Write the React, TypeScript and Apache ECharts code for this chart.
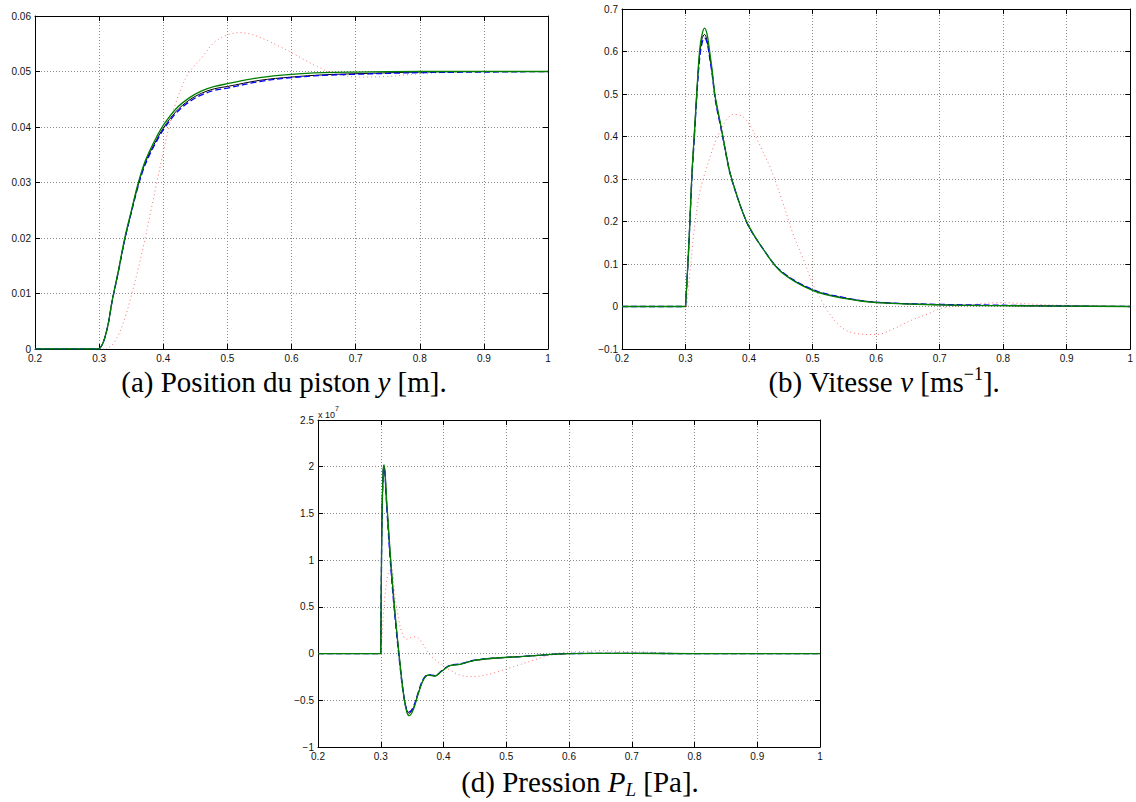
import React, { useEffect, useRef } from "react";
import * as echarts from "echarts";

// ---- (a) piston position y [m] ----
const posTime = [0.2, 0.3, 0.305, 0.31, 0.315, 0.32, 0.33, 0.34, 0.35, 0.36, 0.37, 0.38, 0.39, 0.4, 0.42, 0.44, 0.46, 0.48, 0.5, 0.55, 0.6, 0.65, 0.7, 0.8, 0.9, 1.0];
const posBlack = [0, 0, 0.0008, 0.0025, 0.005, 0.0085, 0.014, 0.0198, 0.0246, 0.0292, 0.033, 0.0356, 0.0378, 0.0398, 0.0428, 0.0448, 0.0461, 0.0469, 0.0473, 0.0484, 0.049, 0.0494, 0.0496, 0.0499, 0.05, 0.05];
const posBlue = [0, 0, 0.0008, 0.0025, 0.005, 0.0084, 0.0139, 0.0197, 0.0245, 0.029, 0.0327, 0.0353, 0.0375, 0.0395, 0.0425, 0.0445, 0.0458, 0.0466, 0.047, 0.0482, 0.0489, 0.0493, 0.0495, 0.0498, 0.0499, 0.05];
const posGreen = [0, 0, 0.0008, 0.0025, 0.005, 0.0085, 0.0141, 0.02, 0.0248, 0.0295, 0.0333, 0.036, 0.0383, 0.0403, 0.0433, 0.0452, 0.0465, 0.0473, 0.0478, 0.0489, 0.0495, 0.0498, 0.0499, 0.05, 0.05, 0.05];
const posRedTime = [0.2, 0.31, 0.32, 0.33, 0.34, 0.35, 0.36, 0.37, 0.38, 0.39, 0.4, 0.41, 0.42, 0.43, 0.44, 0.46, 0.48, 0.5, 0.52, 0.54, 0.56, 0.58, 0.6, 0.62, 0.64, 0.66, 0.68, 0.7, 0.75, 0.8, 0.9, 1.0];
const posRed = [0, 0, 0.0007, 0.0025, 0.0055, 0.0095, 0.014, 0.019, 0.0245, 0.03, 0.0355, 0.0405, 0.0445, 0.0475, 0.0498, 0.0525, 0.0553, 0.0566, 0.057, 0.0566, 0.0557, 0.0546, 0.0534, 0.0521, 0.0509, 0.0499, 0.0493, 0.049, 0.0491, 0.0496, 0.05, 0.05];

// ---- (b) velocity v [m/s] ----
const velTime = [0.2, 0.3, 0.303, 0.306, 0.31, 0.314, 0.318, 0.322, 0.326, 0.33, 0.334, 0.338, 0.342, 0.346, 0.35, 0.355, 0.36, 0.365, 0.37, 0.38, 0.39, 0.4, 0.42, 0.45, 0.5, 0.55, 0.6, 0.7, 0.8, 0.9, 1.0];
const velBlack = [0, 0, 0.08, 0.17, 0.31, 0.41, 0.51, 0.59, 0.63, 0.64, 0.625, 0.59, 0.55, 0.5, 0.465, 0.428, 0.39, 0.35, 0.315, 0.265, 0.222, 0.187, 0.14, 0.083, 0.039, 0.02, 0.01, 0.004, 0.002, 0.001, 0];
const velBlue = [0, 0, 0.08, 0.17, 0.3, 0.4, 0.5, 0.58, 0.62, 0.632, 0.62, 0.585, 0.545, 0.495, 0.46, 0.425, 0.387, 0.348, 0.313, 0.264, 0.222, 0.187, 0.14, 0.084, 0.04, 0.021, 0.01, 0.005, 0.003, 0.001, 0];
const velGreen = [0, 0, 0.08, 0.17, 0.31, 0.41, 0.51, 0.6, 0.64, 0.655, 0.64, 0.6, 0.555, 0.5, 0.468, 0.43, 0.39, 0.35, 0.315, 0.265, 0.222, 0.188, 0.14, 0.082, 0.038, 0.019, 0.009, 0.004, 0.002, 0.001, 0];
const velRedTime = [0.2, 0.302, 0.307, 0.313, 0.318, 0.322, 0.327, 0.335, 0.344, 0.355, 0.365, 0.375, 0.39, 0.404, 0.418, 0.435, 0.452, 0.469, 0.486, 0.5, 0.514, 0.526, 0.548, 0.571, 0.6, 0.628, 0.656, 0.684, 0.7, 0.741, 0.797, 0.854, 0.911, 1.0];
const velRed = [0, 0, 0.08, 0.172, 0.23, 0.266, 0.296, 0.335, 0.376, 0.415, 0.44, 0.452, 0.447, 0.42, 0.376, 0.321, 0.25, 0.172, 0.109, 0.054, 0.015, -0.016, -0.052, -0.064, -0.066, -0.052, -0.032, -0.016, -0.005, 0.003, 0.009, 0.005, 0.002, 0];

// ---- (d) load pressure P_L [x 10^7 Pa] ----
const presTime = [0.2, 0.3, 0.3009, 0.302, 0.304, 0.3053, 0.3094, 0.3147, 0.32, 0.3253, 0.3306, 0.336, 0.3413, 0.3455, 0.352, 0.36, 0.368, 0.376, 0.3865, 0.397, 0.41, 0.4264, 0.447, 0.479, 0.522, 0.56, 0.6, 0.7, 0.8, 0.9, 1.0];
const presBlack = [0, 0, 0.75, 1.47, 1.96, 2.0, 1.62, 1.09, 0.63, 0.24, -0.1, -0.41, -0.6, -0.64, -0.585, -0.42, -0.28, -0.23, -0.24, -0.19, -0.13, -0.115, -0.076, -0.05, -0.033, -0.015, 0, 0.002, 0, 0, 0];
const presBlue = [0, 0, 0.75, 1.47, 1.95, 1.99, 1.58, 1.04, 0.59, 0.21, -0.13, -0.43, -0.6, -0.625, -0.57, -0.41, -0.27, -0.225, -0.235, -0.185, -0.125, -0.11, -0.074, -0.05, -0.032, -0.015, 0, 0.002, 0, 0, 0];
const presGreen = [0, 0, 0.75, 1.47, 1.97, 2.02, 1.64, 1.11, 0.645, 0.25, -0.1, -0.425, -0.62, -0.665, -0.6, -0.425, -0.28, -0.23, -0.24, -0.19, -0.13, -0.115, -0.076, -0.05, -0.033, -0.015, 0, 0.002, 0, 0, 0];
const presRedTime = [0.2, 0.3, 0.302, 0.3066, 0.312, 0.3174, 0.3226, 0.328, 0.3333, 0.3413, 0.352, 0.36, 0.368, 0.3785, 0.3944, 0.41, 0.4264, 0.447, 0.479, 0.5115, 0.544, 0.567, 0.59, 0.618, 0.652, 0.692, 0.726, 0.749, 0.8, 1.0];
const presRed = [0, 0, 0.18, 0.61, 0.86, 0.91, 0.61, 0.395, 0.234, 0.153, 0.18, 0.164, 0.092, -0.015, -0.104, -0.175, -0.23, -0.247, -0.21, -0.14, -0.07, -0.02, 0.01, 0.02, 0.03, 0.02, 0.015, 0.005, 0, 0];

// Axis ranges and tick steps
const xRange = { min: 0.2, max: 1, interval: 0.1 };
const posRange = { min: 0, max: 0.06, interval: 0.01 };
const velRange = { min: -0.1, max: 0.7, interval: 0.1 };
const presRange = { min: -1, max: 2.5, interval: 0.5 };

const TICK_FONT = "'Liberation Sans', Arial, sans-serif";
const CAPTION_FONT = "'Liberation Serif', 'Times New Roman', serif";

const fmt = (v: number) => String(parseFloat(v.toFixed(4))).replace("-", "\u2212");

const panels = [
  { left: 35, top: 16, width: 513, height: 333, y: posRange },
  { left: 622, top: 9, width: 510, height: 340, y: velRange },
  { left: 318, top: 420, width: 502, height: 327, y: presRange },
];

// Split a trace at the end of its resting (zero) stretch: the resting part is
// drawn straight, the transient part smoothed, so the onset corner stays sharp.
function splitAtOnset(t: number[], v: number[]) {
  let k = 0;
  while (k + 1 < v.length && v[k + 1] === 0) k++;
  const pts = t.map((x, i) => [x, v[i]]);
  return { rest: pts.slice(0, k + 1), motion: pts.slice(k) };
}

function buildOption() {
  const grid = panels.map((p) => ({ left: p.left, top: p.top, width: p.width, height: p.height }));

  const frameLine = { show: true, onZero: false, lineStyle: { color: "#000", width: 1 } };
  const inTicks = { show: true, inside: true, length: 5, lineStyle: { color: "#000" } };
  const labelStyle = { show: true, margin: 4, fontFamily: TICK_FONT, fontSize: 10, color: "#111", formatter: fmt };
  const gridLines = { show: true, lineStyle: { color: "#8a8a8a", type: [1, 2], width: 1 } };

  const xAxis: any[] = [];
  const yAxis: any[] = [];
  panels.forEach((p, i) => {
    xAxis.push({ type: "value", gridIndex: i, position: "bottom", ...xRange, axisLine: frameLine, axisTick: inTicks, axisLabel: labelStyle, splitLine: gridLines });
    yAxis.push({ type: "value", gridIndex: i, position: "left", ...p.y, axisLine: frameLine, axisTick: inTicks, axisLabel: labelStyle, splitLine: gridLines });
  });
  // Mirror axes on top/right close the frame and carry inward ticks
  panels.forEach((p, i) => {
    xAxis.push({ type: "value", gridIndex: i, position: "top", ...xRange, axisLine: frameLine, axisTick: inTicks, axisLabel: { show: false }, splitLine: { show: false } });
    yAxis.push({ type: "value", gridIndex: i, position: "right", ...p.y, axisLine: frameLine, axisTick: inTicks, axisLabel: { show: false }, splitLine: { show: false } });
  });

  const series: any[] = [];
  const trace = (name: string, idx: number, t: number[], v: number[], color: string, width: number, type: any) => {
    const { rest, motion } = splitAtOnset(t, v);
    const base = {
      name,
      type: "line",
      xAxisIndex: idx,
      yAxisIndex: idx,
      showSymbol: false,
      symbol: "none",
      lineStyle: { color, width, type },
      emphasis: { disabled: true },
    };
    series.push({ ...base, data: rest, smooth: false });
    series.push({ ...base, data: motion, smooth: 0.35 });
  };

  const RED = "#ff7070";
  const BLUE = "#0000ff";
  const GREEN = "#007f00";
  const BLACK = "#000000";

  trace("rouge", 0, posRedTime, posRed, RED, 1, [1, 3]);
  trace("noir", 0, posTime, posBlack, BLACK, 1, "solid");
  trace("bleu", 0, posTime, posBlue, BLUE, 1.3, [6, 3]);
  trace("vert", 0, posTime, posGreen, GREEN, 1.3, "solid");

  trace("rouge", 1, velRedTime, velRed, RED, 1, [1, 3]);
  trace("noir", 1, velTime, velBlack, BLACK, 1, "solid");
  trace("bleu", 1, velTime, velBlue, BLUE, 1.3, [6, 3]);
  trace("vert", 1, velTime, velGreen, GREEN, 1.3, "solid");

  trace("rouge", 2, presRedTime, presRed, RED, 1, [1, 3]);
  trace("noir", 2, presTime, presBlack, BLACK, 1, "solid");
  trace("bleu", 2, presTime, presBlue, BLUE, 1.3, [6, 3]);
  trace("vert", 2, presTime, presGreen, GREEN, 1.3, "solid");

  const CAP = 29;
  const captionRich = {
    i: { fontFamily: CAPTION_FONT, fontSize: CAP, fontStyle: "italic", fill: "#000" },
    sup: { fontFamily: CAPTION_FONT, fontSize: 18, verticalAlign: "top", lineHeight: 18, fill: "#000" },
    sub: { fontFamily: CAPTION_FONT, fontSize: 19, fontStyle: "italic", verticalAlign: "bottom", lineHeight: 15, fill: "#000" },
  };
  const caption = (x: number, y: number, text: string) => ({
    type: "text",
    x,
    y,
    style: {
      text,
      fill: "#000",
      fontFamily: CAPTION_FONT,
      fontSize: CAP,
      lineHeight: 34,
      align: "center",
      verticalAlign: "middle",
      rich: captionRich,
    },
  });

  const graphic = [
    caption(284, 382, "(a) Position du piston {i|y} [m]."),
    caption(884, 382, "(b) Vitesse {i|v} [ms{sup|\u22121}]."),
    caption(580, 782, "(d) Pression {i|P}{sub|L} [Pa]."),
    {
      type: "text",
      x: 318,
      y: 405,
      style: {
        text: "{a|x 10}{s|7}",
        align: "left",
        verticalAlign: "top",
        rich: {
          a: { fontFamily: TICK_FONT, fontSize: 9, fill: "#111", verticalAlign: "bottom", lineHeight: 14 },
          s: { fontFamily: TICK_FONT, fontSize: 7, fill: "#111", verticalAlign: "top", lineHeight: 14 },
        },
      },
    },
  ];

  return { animation: false, backgroundColor: "#ffffff", grid, xAxis, yAxis, series, graphic };
}

export default function App() {
  const ref = useRef<HTMLDivElement>(null);
  useEffect(() => {
    if (!ref.current) return;
    const chart = echarts.init(ref.current, undefined, { renderer: "svg" });
    chart.setOption(buildOption() as any);
    return () => chart.dispose();
  }, []);
  return (
    <div
      ref={ref}
      style={{ position: "fixed", left: 0, top: 0, width: 1136, height: 802, background: "#fff" }}
    />
  );
}
